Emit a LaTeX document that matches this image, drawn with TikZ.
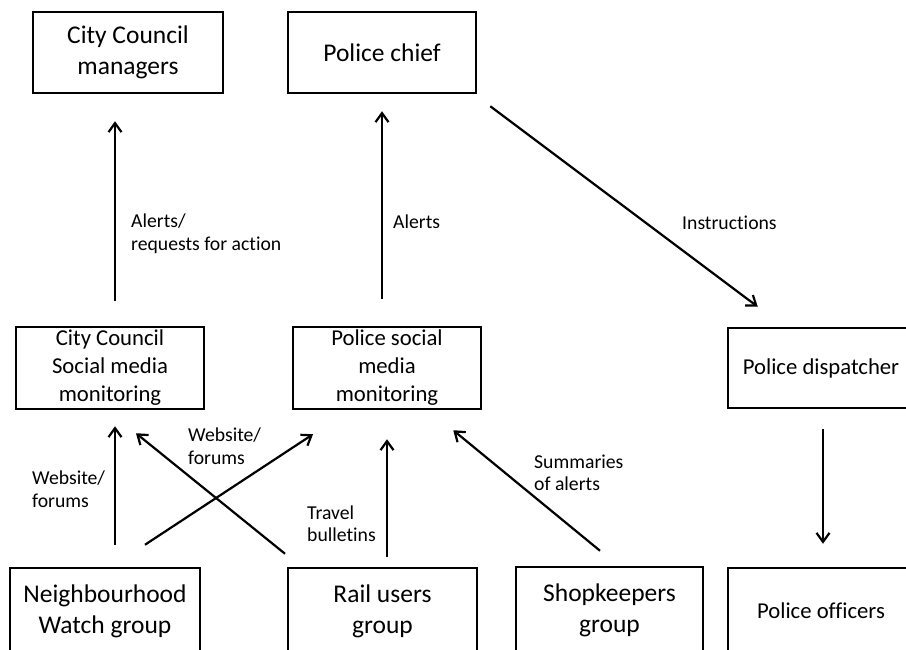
\documentclass[tikz,border=0pt]{standalone}
\usepackage{fontspec}
\setmainfont{Carlito}[Ligatures={NoCommon}]
\usetikzlibrary{arrows.meta,calc}
\begin{document}
\begin{tikzpicture}[x=1pt,y=-1pt,
  box/.style={draw, line width=2.5pt, rectangle, align=center, inner sep=0pt},
  bigtxt/.style={font=\fontsize{25.5}{31}\selectfont},
  midtxt/.style={font=\fontsize{22.7}{28}\selectfont},
  lbl/.style={font=\fontsize{19.7}{22.5}\selectfont, align=left, inner sep=0pt, anchor=west},
  conn/.style={line width=2.2pt, -{Straight Barb[length=9pt,width=13pt]}}
]
\clip (0,0) rectangle (906,650);
\fill[white] (0,0) rectangle (906,650);

% top boxes
\node[box,bigtxt,minimum width=190pt,minimum height=81pt] (ccm) at (128,52.5) {City Council\\managers};
\node[box,bigtxt,minimum width=188pt,minimum height=81pt] (chief) at (382,52.5) {Police chief};
% middle boxes
\node[box,midtxt,minimum width=188pt,minimum height=82pt] (ccsmm) at (110,368) {City Council\\Social media\\monitoring};
\node[box,midtxt,minimum width=188pt,minimum height=82pt] (psmm) at (387,368) {Police social\\media\\monitoring};
\node[box,midtxt,minimum width=186pt,minimum height=80pt] (disp) at (821,368) {Police dispatcher};
% bottom boxes
\node[box,bigtxt,minimum width=190pt,minimum height=86pt] (nw) at (105,611) {Neighbourhood\\Watch group};
\node[box,bigtxt,minimum width=189pt,minimum height=86pt] (rail) at (382.5,611) {Rail users\\group};
\node[box,bigtxt,minimum width=187pt,minimum height=87pt] (shop) at (609.5,610.5) {Shopkeepers\\group};
\node[box,midtxt,minimum width=186pt,minimum height=86pt] (off) at (821,611) {Police officers};

% connectors
\draw[conn] ($(ccsmm.north)+(5,-25)$) -- ($(ccm.south)+(-13,27)$);
\draw[conn] ($(psmm.north)+(-5,-27)$) -- ($(chief.south)+(0,17)$);
\draw[conn] ($(chief.south east)+(13,12)$) -- ($(disp.north west)+(31,-20)$);
\draw[conn] ($(disp.south)+(2,20)$) -- ($(off.north)+(2,-23)$);
\draw[conn] ($(nw.north)+(10,-22)$) -- ($(ccsmm.south)+(5,16)$);
\draw[conn] ($(nw.north)+(40,-22)$) -- ($(psmm.south)+(-74,24)$);
\draw[conn] ($(rail.north)+(-97.5,-13)$) -- ($(ccsmm.south)+(26,23)$);
\draw[conn] ($(rail.north)+(4.5,-10)$) -- ($(psmm.south)+(0,29)$);
\draw[conn] ($(shop.north)+(-9.5,-15)$) -- ($(psmm.south east)+(-29,20)$);

% labels
\node[lbl] (l1) at (131,233.5) {Alerts/\\requests for action};
\node[lbl] (l2) at (393,222) {Alerts};
\node[lbl] (l3) at (682,223) {Instructions};
\node[lbl] (l4) at (32,489) {Website/\\forums};
\node[lbl] (l5) at (188,446) {Website/\\forums};
\node[lbl] (l6) at (307,523.5) {Travel\\bulletins};
\node[lbl] (l7) at (534,473) {Summaries\\of alerts};
\end{tikzpicture}
\end{document}
